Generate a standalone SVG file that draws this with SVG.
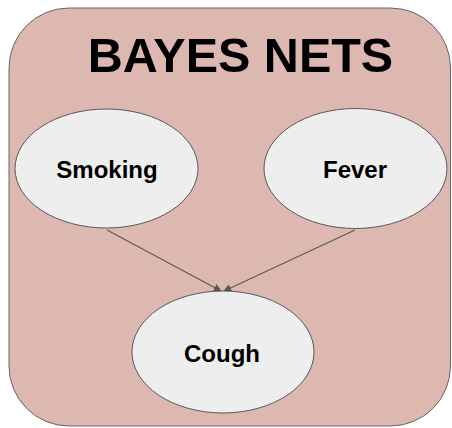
<svg xmlns="http://www.w3.org/2000/svg" width="452" height="428" viewBox="0 0 452 428">
<defs>
<style>
.node ellipse{fill:#eeeeee;stroke:#595959;stroke-width:1}
.label{font-family:"Liberation Sans",Arial,sans-serif;font-weight:bold;font-size:24px;fill:#000;text-anchor:middle}
.edge{stroke:#595959;stroke-width:1.2;fill:none;marker-end:url(#arrow)}
</style>
<marker id="arrow" viewBox="0 0 10 10" refX="9" refY="5" markerWidth="8" markerHeight="8" markerUnits="userSpaceOnUse" orient="auto">
<path d="M0,0 L10,5 L0,10 z" fill="#595959"/>
</marker>
</defs>
<rect width="452" height="428" fill="#ffffff"/>
<g id="frame">
<rect x="9" y="8" width="441.5" height="418" rx="60" ry="60" fill="#ddb8b0" stroke="#666666" stroke-width="1"/>
<text x="240.5" y="72" font-family="'Liberation Sans',Arial,sans-serif" font-weight="bold" font-size="48.5" text-anchor="middle" fill="#000">BAYES NETS</text>
</g>
<g id="connectors">
<line class="edge" x1="107" y1="230" x2="221" y2="291"/>
<line class="edge" x1="355" y1="230" x2="224" y2="291"/>
</g>
<g id="node-smoking" class="node">
<ellipse cx="106.5" cy="168.5" rx="91.5" ry="59.5"/>
<text class="label" x="107" y="177.5">Smoking</text>
</g>
<g id="node-fever" class="node">
<ellipse cx="355.5" cy="168.5" rx="91.5" ry="60"/>
<text class="label" x="355" y="177.5">Fever</text>
</g>
<g id="node-cough" class="node">
<ellipse cx="223" cy="352" rx="91" ry="61"/>
<text class="label" x="222" y="361.5">Cough</text>
</g>
</svg>
